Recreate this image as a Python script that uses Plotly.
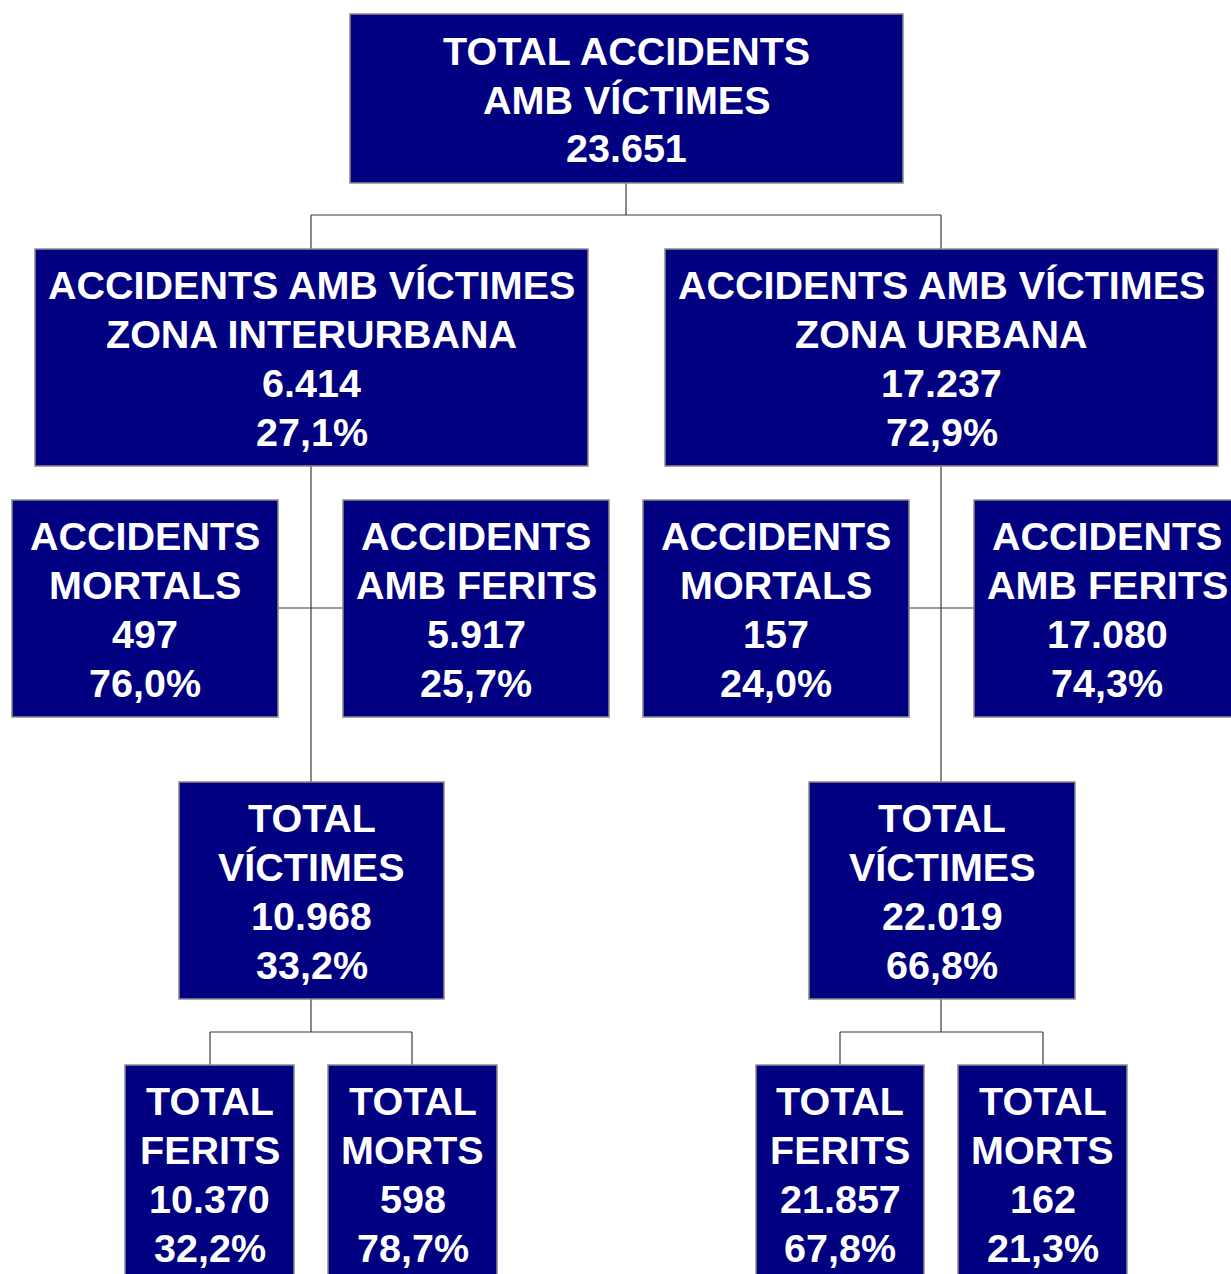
import plotly.graph_objects as go

# ---- data ----
node_labels = [
    ["TOTAL ACCIDENTS", "AMB VÍCTIMES"],
    ["ACCIDENTS AMB VÍCTIMES", "ZONA INTERURBANA"],
    ["ACCIDENTS AMB VÍCTIMES", "ZONA URBANA"],
    ["ACCIDENTS", "MORTALS"],
    ["ACCIDENTS", "AMB FERITS"],
    ["ACCIDENTS", "MORTALS"],
    ["ACCIDENTS", "AMB FERITS"],
    ["TOTAL", "VÍCTIMES"],
    ["TOTAL", "VÍCTIMES"],
    ["TOTAL", "FERITS"],
    ["TOTAL", "MORTS"],
    ["TOTAL", "FERITS"],
    ["TOTAL", "MORTS"],
]
node_values = [23651, 6414, 17237, 497, 5917, 157, 17080, 10968, 22019, 10370, 598, 21857, 162]
node_pcts = [None, 27.1, 72.9, 76.0, 25.7, 24.0, 74.3, 33.2, 66.8, 32.2, 78.7, 67.8, 21.3]

# ---- layout geometry (pixels) ----
W, H = 1231, 1274
boxes = [
    (350, 14, 903, 183),
    (35, 249, 588, 466),
    (665, 249, 1218, 466),
    (12, 500, 278, 717),
    (343, 500, 609, 717),
    (643, 500, 909, 717),
    (974, 500, 1240, 717),
    (179, 782, 444, 999),
    (809, 782, 1075, 999),
    (125, 1065, 294, 1282),
    (328, 1065, 497, 1282),
    (756, 1065, 924, 1282),
    (958, 1065, 1127, 1282),
]
NAVY = "#000080"
BORDER = "#8a8a8a"
LINE = "#3a3a3a"
FONT = dict(family="Liberation Sans, Arial, sans-serif", size=39.5, color="white", weight="bold")
LINE_H = 48.7


def fmt_int(v):
    return f"{v:,}".replace(",", ".")


def fmt_pct(p):
    return f"{p:.1f}".replace(".", ",") + "%"


fig = go.Figure()
shapes = []
annotations = []


def seg(x0, y0, x1, y1):
    shapes.append(dict(type="line", xref="x", yref="y", x0=x0, y0=y0, x1=x1, y1=y1,
                       line=dict(color=LINE, width=1.2), layer="below"))


# top -> level 2
seg(626, boxes[0][3], 626, 215)
seg(311, 215, 941, 215)
seg(311, 215, 311, boxes[1][1])
seg(941, 215, 941, boxes[2][1])
# level 2 -> level 3 / level 4 (trunk)
for parent, trunk_x, (l, r) in [(1, 311, (3, 4)), (2, 941, (5, 6))]:
    seg(trunk_x, boxes[parent][3], trunk_x, 782)
    seg(boxes[l][2], 608, boxes[r][0], 608)
# level 4 -> level 5
for parent, trunk_x, (l, r), (lx, rx) in [(7, 311, (9, 10), (210, 412)), (8, 941, (11, 12), (840, 1043))]:
    seg(trunk_x, boxes[parent][3], trunk_x, 1032)
    seg(lx, 1032, rx, 1032)
    seg(lx, 1032, lx, boxes[l][1])
    seg(rx, 1032, rx, boxes[r][1])

# boxes + text
for i, (x0, y0, x1, y1) in enumerate(boxes):
    shapes.append(dict(type="rect", xref="x", yref="y", x0=x0, y0=y0, x1=x1, y1=y1,
                       fillcolor=NAVY, line=dict(color=BORDER, width=1.5), layer="above"))
    lines = list(node_labels[i]) + [fmt_int(node_values[i])]
    if node_pcts[i] is not None:
        lines.append(fmt_pct(node_pcts[i]))
    yc = (y0 + y1) / 2
    n = len(lines)
    for k, t in enumerate(lines):
        y = yc + (k - (n - 1) / 2) * LINE_H + 1
        annotations.append(dict(x=(x0 + x1) / 2, y=y, xref="x", yref="y", text=t,
                                showarrow=False, font=FONT, xanchor="center", yanchor="middle"))

fig.add_trace(go.Scatter(x=[0, W], y=[0, H], mode="markers", marker=dict(opacity=0),
                         hoverinfo="skip", showlegend=False))
fig.update_layout(
    width=W, height=H, margin=dict(l=0, r=0, t=0, b=0),
    paper_bgcolor="white", plot_bgcolor="white",
    xaxis=dict(range=[0, W], visible=False, fixedrange=True),
    yaxis=dict(range=[H, 0], visible=False, fixedrange=True),
    shapes=shapes, annotations=annotations, showlegend=False,
)
fig.write_html("out.html", config={"displayModeBar": False},
               post_script="document.body.style.margin='0';document.body.style.overflow='hidden';")
